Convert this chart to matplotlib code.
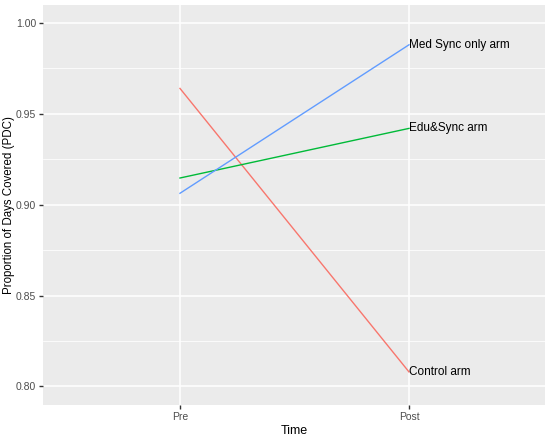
import matplotlib
matplotlib.use("Agg")
import matplotlib.pyplot as plt
from matplotlib.ticker import MultipleLocator, FormatStrFormatter

plt.rcParams["font.family"] = ["Liberation Sans", "DejaVu Sans"]

times = ["Pre", "Post"]
arms = ["Control arm", "Edu&Sync arm", "Med Sync only arm"]
control = [0.964, 0.808]
edu_sync = [0.9147, 0.942]
med_sync = [0.9063, 0.988]
colors = ["#F8766D", "#00BA38", "#619CFF"]

fig = plt.figure(figsize=(5.5, 4.37), dpi=100)
ax = fig.add_axes([0.0782, 0.0732, 0.9128, 0.9154])
ax.set_facecolor("#EBEBEB")

x = list(range(1, len(times) + 1))
for name, vals, c in zip(arms, [control, edu_sync, med_sync], colors):
    ax.plot(x, vals, color=c, lw=1.0, zorder=3)
    ax.text(x[-1], vals[-1], name, ha="left", va="center", fontsize=8.5,
            color="black", zorder=4)

ax.set_xlim(0.402, 2.594)
ax.set_ylim(0.7898, 1.0099)
ax.set_xticks(x)
ax.set_xticklabels(times)
ax.yaxis.set_major_locator(MultipleLocator(0.05))
ax.yaxis.set_minor_locator(MultipleLocator(0.025))
ax.yaxis.set_major_formatter(FormatStrFormatter("%.2f"))

ax.grid(which="major", color="white", lw=1.1, zorder=0)
ax.grid(which="minor", axis="y", color="white", lw=0.55, zorder=0)
ax.set_axisbelow(True)
for s in ax.spines.values():
    s.set_visible(False)
ax.tick_params(which="major", length=3, width=1, color="#333333",
               labelcolor="#4D4D4D", labelsize=7.5, pad=2)
ax.tick_params(which="minor", length=0)

ax.set_xlabel("Time", fontsize=9, labelpad=2)
ax.set_ylabel("Proportion of Days Covered (PDC)", fontsize=8.3)
ax.yaxis.set_label_coords(-0.056, 0.5)

fig.savefig("out.png", dpi=100)
